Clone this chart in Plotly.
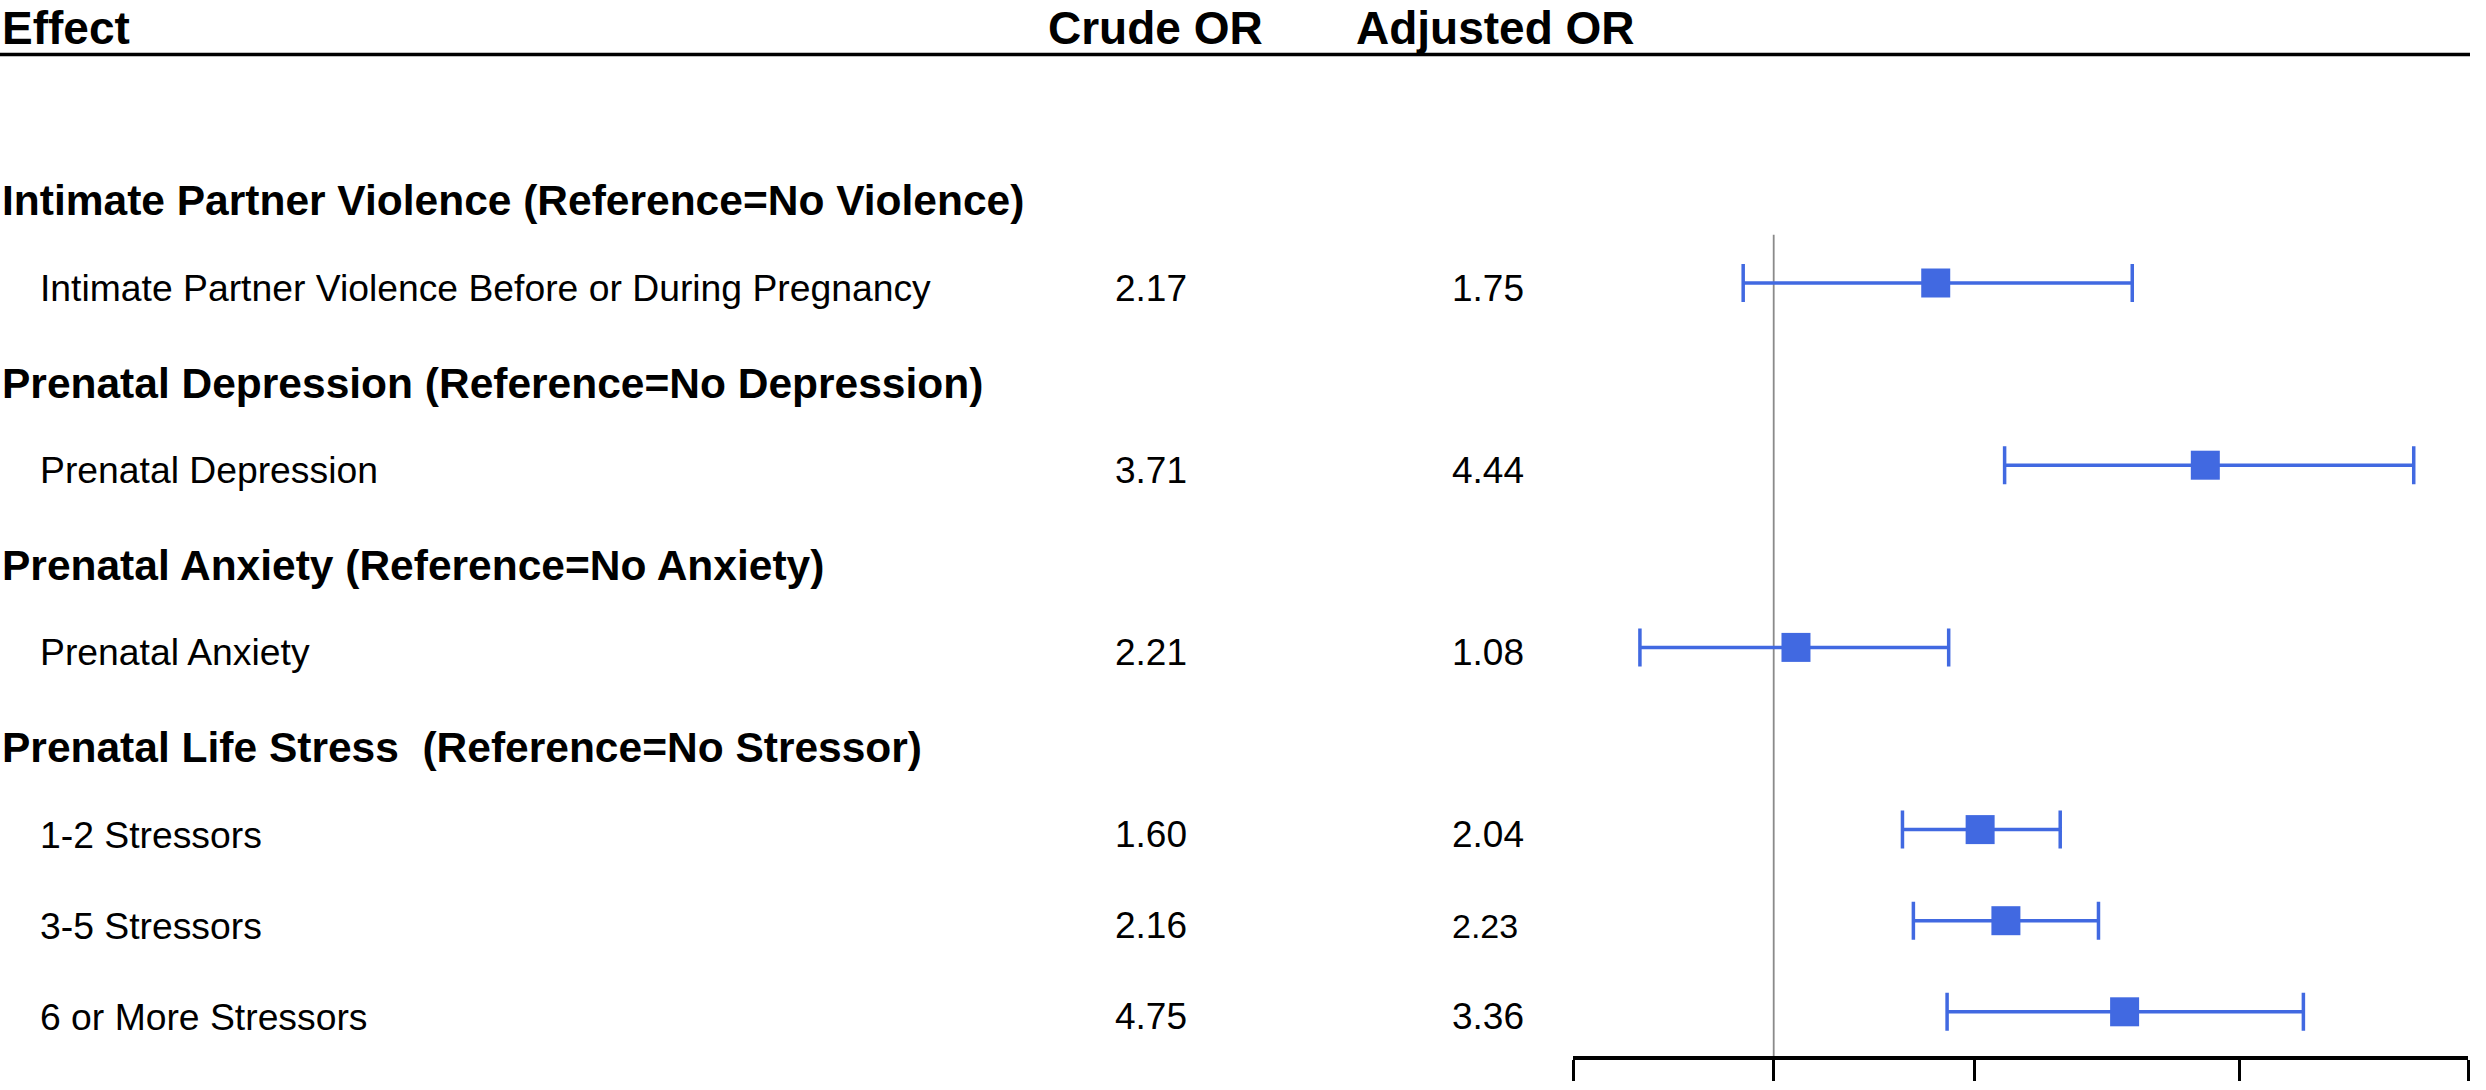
import math
import plotly.graph_objects as go

# ---------------- data ----------------
group_labels = [
    "Intimate Partner Violence (Reference=No Violence)",
    "Prenatal Depression (Reference=No Depression)",
    "Prenatal Anxiety (Reference=No Anxiety)",
    "Prenatal Life Stress \u00a0(Reference=No Stressor)",
]
item_labels = [
    "Intimate Partner Violence Before or During Pregnancy",
    "Prenatal Depression",
    "Prenatal Anxiety",
    "1-2 Stressors",
    "3-5 Stressors",
    "6 or More Stressors",
]
item_group = [0, 1, 2, 3, 3, 3]
crude_or = [2.17, 3.71, 2.21, 1.60, 2.16, 4.75]
adjusted_or = [1.75, 4.44, 1.08, 2.04, 2.23, 3.36]
ci_lower = [0.90, 2.22, 0.63, 1.56, 1.62, 1.82]
ci_upper = [3.45, 9.12, 1.83, 2.69, 3.07, 6.23]
x_ticks = [0.5, 1, 2, 5, 11]
x_min, x_max = 0.5, 11
col_headers = ["Effect", "Crude OR", "Adjusted OR"]

# ---------------- layout geometry ----------------
W, H = 2486, 1090
FONT = "Liberation Sans, Arial, sans-serif"
BLUE = "#4169E1"
row0_px, row_step = 191.9, 91.1
axis_px = 1056
plot_left, plot_right = 1573, 2468

# rows: group header then its items
group_rows, item_rows = [], []
r = 0
last_g = None
for g in item_group:
    if g != last_g:
        group_rows.append(r)
        r += 1
        last_g = g
    item_rows.append(r)
    r += 1

y_bottom = (axis_px - row0_px) / row_step
y_top = (0 - row0_px) / row_step

fig = go.Figure()

# reference line at OR = 1
fig.add_trace(go.Scatter(
    x=[1, 1], y=[0.47, y_bottom], mode="lines",
    line=dict(color="#8a8a8a", width=1.8), hoverinfo="skip", showlegend=False,
    cliponaxis=False,
))

# estimates with CIs
fig.add_trace(go.Scatter(
    x=adjusted_or, y=item_rows, mode="markers",
    marker=dict(symbol="square", size=29, color=BLUE, line=dict(width=0)),
    error_x=dict(
        type="data", symmetric=False,
        array=[u - e for u, e in zip(ci_upper, adjusted_or)],
        arrayminus=[e - l for e, l in zip(adjusted_or, ci_lower)],
        color=BLUE, thickness=3.5, width=19,
    ),
    showlegend=False, cliponaxis=False,
))

annotations = []

def add_text(text, x_px, y, size, bold=False, yref="y", shift=-6, yanchor="middle"):
    annotations.append(dict(
        text=f"<b>{text}</b>" if bold else text,
        x=x_px / W, xref="paper", xanchor="left",
        y=y, yref=yref, yanchor=yanchor, yshift=shift,
        showarrow=False, font=dict(family=FONT, size=size, color="black"),
    ))

# column headers
for txt, xp in zip(col_headers, [0, 1046, 1354]):
    add_text(txt, xp, 1, 46, bold=True, yref="paper", shift=0, yanchor="top")

for g, row in zip(group_labels, group_rows):
    add_text(g, 0, row, 42.5, bold=True, shift=-9)

for i, (lab, row) in enumerate(zip(item_labels, item_rows)):
    add_text(lab, 38, row, 37.3, shift=-5)
    add_text(f"{crude_or[i]:.2f}", 1113, row, 37, shift=-5)
    add_text(f"{adjusted_or[i]:.2f}", 1450, row, 34 if i == 4 else 37, shift=-5)

fig.update_layout(
    width=W, height=H,
    margin=dict(l=0, r=0, t=0, b=0),
    paper_bgcolor="white", plot_bgcolor="white",
    annotations=annotations,
    shapes=[dict(
        type="line", xref="paper", yref="paper",
        x0=0, x1=2470 / W, y0=1 - 54.5 / H, y1=1 - 54.5 / H,
        line=dict(color="black", width=3.5),
    )],
    xaxis=dict(
        type="log", domain=[plot_left / W, plot_right / W],
        range=[math.log10(x_min), math.log10(x_max)],
        tickvals=x_ticks, showticklabels=False,
        ticks="outside", ticklen=21, tickwidth=3, tickcolor="black",
        showline=True, linecolor="black", linewidth=4,
        showgrid=False, zeroline=False,
    ),
    yaxis=dict(
        domain=[(H - axis_px) / H, 1],
        range=[y_bottom, y_top],
        visible=False, showgrid=False, zeroline=False,
    ),
    font=dict(family=FONT),
)

fig.write_html(
    "out.html",
    config={"displayModeBar": False},
    post_script="document.body.style.margin='0';document.body.style.overflow='hidden';",
)
